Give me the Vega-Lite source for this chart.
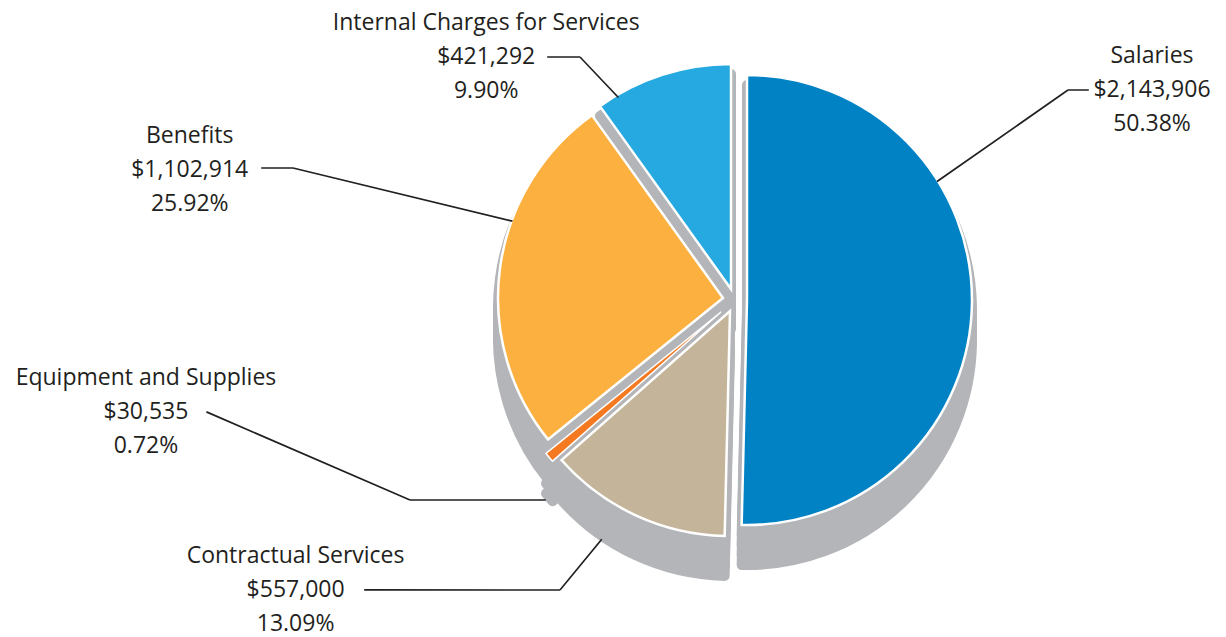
{
  "$schema": "https://vega.github.io/schema/vega-lite/v6.json",
  "width": 982,
  "height": 600,
  "autosize": "none",
  "padding": {"left": 244, "top": 0, "right": 0, "bottom": 37},
  "background": "white",
  "config": {"view": {"stroke": null}},
  "data": {"values": [
    {"category": "Salaries", "amount": 2143906, "pct": 50.38, "order": 1},
    {"category": "Contractual Services", "amount": 557000, "pct": 13.09, "order": 2},
    {"category": "Equipment and Supplies", "amount": 30535, "pct": 0.72, "order": 3},
    {"category": "Benefits", "amount": 1102914, "pct": 25.92, "order": 4},
    {"category": "Internal Charges for Services", "amount": 421292, "pct": 9.90, "order": 5}
  ]},
  "transform": [
    {"window": [{"op": "sum", "field": "amount", "as": "cum"}], "sort": [{"field": "order"}], "frame": [null, 0]},
    {"calculate": "datum.cum - datum.amount", "as": "start"},
    {"calculate": "datum.cum - datum.amount / 2", "as": "mid"},
    {"calculate": "datum.category + '\\n' + format(datum.amount, '$,') + '\\n' + format(datum.pct, '.2f') + '%'", "as": "label"}
  ],
  "layer": [
    {"transform": [{"filter": "datum.category === 'Salaries'"}], "mark": {"type": "arc", "radius": 225, "fill": "#b4b5b8", "stroke": "#b4b5b8", "strokeWidth": 10, "strokeJoin": "round", "xOffset": 12, "yOffset": 40}, "encoding": {"theta": {"field": "start", "type": "quantitative", "stack": null, "scale": {"domain": [0, 4255647]}}, "theta2": {"field": "cum"}}},
    {"transform": [{"filter": "datum.category === 'Salaries'"}], "mark": {"type": "arc", "radius": 225, "fill": "#b4b5b8", "stroke": "#b4b5b8", "strokeWidth": 10, "strokeJoin": "round", "xOffset": 12, "yOffset": 30}, "encoding": {"theta": {"field": "start", "type": "quantitative", "stack": null, "scale": {"domain": [0, 4255647]}}, "theta2": {"field": "cum"}}},
    {"transform": [{"filter": "datum.category === 'Salaries'"}], "mark": {"type": "arc", "radius": 225, "fill": "#b4b5b8", "stroke": "#b4b5b8", "strokeWidth": 10, "strokeJoin": "round", "xOffset": 12, "yOffset": 20}, "encoding": {"theta": {"field": "start", "type": "quantitative", "stack": null, "scale": {"domain": [0, 4255647]}}, "theta2": {"field": "cum"}}},
    {"transform": [{"filter": "datum.category === 'Salaries'"}], "mark": {"type": "arc", "radius": 225, "fill": "#b4b5b8", "stroke": "#b4b5b8", "strokeWidth": 10, "strokeJoin": "round", "xOffset": 12, "yOffset": 10}, "encoding": {"theta": {"field": "start", "type": "quantitative", "stack": null, "scale": {"domain": [0, 4255647]}}, "theta2": {"field": "cum"}}},

    {"transform": [{"filter": "datum.category === 'Internal Charges for Services'"}], "mark": {"type": "arc", "radius": 225, "fill": "#b4b5b8", "stroke": "#b4b5b8", "strokeWidth": 10, "strokeJoin": "round", "xOffset": -4, "yOffset": 29}, "encoding": {"theta": {"field": "start", "type": "quantitative", "stack": null, "scale": {"domain": [0, 4255647]}}, "theta2": {"field": "cum"}}},
    {"transform": [{"filter": "datum.category === 'Internal Charges for Services'"}], "mark": {"type": "arc", "radius": 225, "fill": "#b4b5b8", "stroke": "#b4b5b8", "strokeWidth": 10, "strokeJoin": "round", "xOffset": -4, "yOffset": 19}, "encoding": {"theta": {"field": "start", "type": "quantitative", "stack": null, "scale": {"domain": [0, 4255647]}}, "theta2": {"field": "cum"}}},
    {"transform": [{"filter": "datum.category === 'Internal Charges for Services'"}], "mark": {"type": "arc", "radius": 225, "fill": "#b4b5b8", "stroke": "#b4b5b8", "strokeWidth": 10, "strokeJoin": "round", "xOffset": -4, "yOffset": 9}, "encoding": {"theta": {"field": "start", "type": "quantitative", "stack": null, "scale": {"domain": [0, 4255647]}}, "theta2": {"field": "cum"}}},
    {"transform": [{"filter": "datum.category === 'Internal Charges for Services'"}], "mark": {"type": "arc", "radius": 225, "fill": "#b4b5b8", "stroke": "#b4b5b8", "strokeWidth": 10, "strokeJoin": "round", "xOffset": -4, "yOffset": -1}, "encoding": {"theta": {"field": "start", "type": "quantitative", "stack": null, "scale": {"domain": [0, 4255647]}}, "theta2": {"field": "cum"}}},

    {"transform": [{"filter": "datum.category === 'Benefits'"}], "mark": {"type": "arc", "radius": 225, "fill": "#b4b5b8", "stroke": "#b4b5b8", "strokeWidth": 10, "strokeJoin": "round", "xOffset": -12, "yOffset": 38}, "encoding": {"theta": {"field": "start", "type": "quantitative", "stack": null, "scale": {"domain": [0, 4255647]}}, "theta2": {"field": "cum"}}},
    {"transform": [{"filter": "datum.category === 'Benefits'"}], "mark": {"type": "arc", "radius": 225, "fill": "#b4b5b8", "stroke": "#b4b5b8", "strokeWidth": 10, "strokeJoin": "round", "xOffset": -12, "yOffset": 28}, "encoding": {"theta": {"field": "start", "type": "quantitative", "stack": null, "scale": {"domain": [0, 4255647]}}, "theta2": {"field": "cum"}}},
    {"transform": [{"filter": "datum.category === 'Benefits'"}], "mark": {"type": "arc", "radius": 225, "fill": "#b4b5b8", "stroke": "#b4b5b8", "strokeWidth": 10, "strokeJoin": "round", "xOffset": -12, "yOffset": 18}, "encoding": {"theta": {"field": "start", "type": "quantitative", "stack": null, "scale": {"domain": [0, 4255647]}}, "theta2": {"field": "cum"}}},
    {"transform": [{"filter": "datum.category === 'Benefits'"}], "mark": {"type": "arc", "radius": 225, "fill": "#b4b5b8", "stroke": "#b4b5b8", "strokeWidth": 10, "strokeJoin": "round", "xOffset": -12, "yOffset": 8}, "encoding": {"theta": {"field": "start", "type": "quantitative", "stack": null, "scale": {"domain": [0, 4255647]}}, "theta2": {"field": "cum"}}},

    {"transform": [{"filter": "datum.category === 'Equipment and Supplies'"}], "mark": {"type": "arc", "radius": 225, "fill": "#b4b5b8", "stroke": "#b4b5b8", "strokeWidth": 10, "strokeJoin": "round", "xOffset": -14, "yOffset": 52}, "encoding": {"theta": {"field": "start", "type": "quantitative", "stack": null, "scale": {"domain": [0, 4255647]}}, "theta2": {"field": "cum"}}},
    {"transform": [{"filter": "datum.category === 'Equipment and Supplies'"}], "mark": {"type": "arc", "radius": 225, "fill": "#b4b5b8", "stroke": "#b4b5b8", "strokeWidth": 10, "strokeJoin": "round", "xOffset": -14, "yOffset": 42}, "encoding": {"theta": {"field": "start", "type": "quantitative", "stack": null, "scale": {"domain": [0, 4255647]}}, "theta2": {"field": "cum"}}},
    {"transform": [{"filter": "datum.category === 'Equipment and Supplies'"}], "mark": {"type": "arc", "radius": 225, "fill": "#b4b5b8", "stroke": "#b4b5b8", "strokeWidth": 10, "strokeJoin": "round", "xOffset": -14, "yOffset": 32}, "encoding": {"theta": {"field": "start", "type": "quantitative", "stack": null, "scale": {"domain": [0, 4255647]}}, "theta2": {"field": "cum"}}},
    {"transform": [{"filter": "datum.category === 'Equipment and Supplies'"}], "mark": {"type": "arc", "radius": 225, "fill": "#b4b5b8", "stroke": "#b4b5b8", "strokeWidth": 10, "strokeJoin": "round", "xOffset": -14, "yOffset": 22}, "encoding": {"theta": {"field": "start", "type": "quantitative", "stack": null, "scale": {"domain": [0, 4255647]}}, "theta2": {"field": "cum"}}},

    {"transform": [{"filter": "datum.category === 'Contractual Services'"}], "mark": {"type": "arc", "radius": 225, "fill": "#b4b5b8", "stroke": "#b4b5b8", "strokeWidth": 10, "strokeJoin": "round", "xOffset": -5, "yOffset": 51}, "encoding": {"theta": {"field": "start", "type": "quantitative", "stack": null, "scale": {"domain": [0, 4255647]}}, "theta2": {"field": "cum"}}},
    {"transform": [{"filter": "datum.category === 'Contractual Services'"}], "mark": {"type": "arc", "radius": 225, "fill": "#b4b5b8", "stroke": "#b4b5b8", "strokeWidth": 10, "strokeJoin": "round", "xOffset": -5, "yOffset": 41}, "encoding": {"theta": {"field": "start", "type": "quantitative", "stack": null, "scale": {"domain": [0, 4255647]}}, "theta2": {"field": "cum"}}},
    {"transform": [{"filter": "datum.category === 'Contractual Services'"}], "mark": {"type": "arc", "radius": 225, "fill": "#b4b5b8", "stroke": "#b4b5b8", "strokeWidth": 10, "strokeJoin": "round", "xOffset": -5, "yOffset": 31}, "encoding": {"theta": {"field": "start", "type": "quantitative", "stack": null, "scale": {"domain": [0, 4255647]}}, "theta2": {"field": "cum"}}},
    {"transform": [{"filter": "datum.category === 'Contractual Services'"}], "mark": {"type": "arc", "radius": 225, "fill": "#b4b5b8", "stroke": "#b4b5b8", "strokeWidth": 10, "strokeJoin": "round", "xOffset": -5, "yOffset": 21}, "encoding": {"theta": {"field": "start", "type": "quantitative", "stack": null, "scale": {"domain": [0, 4255647]}}, "theta2": {"field": "cum"}}},

    {"transform": [{"filter": "datum.category === 'Salaries'"}], "mark": {"type": "arc", "radius": 225, "stroke": "white", "strokeWidth": 2.5, "strokeJoin": "miter", "xOffset": 12, "yOffset": 0}, "encoding": {"theta": {"field": "start", "type": "quantitative", "stack": null, "scale": {"domain": [0, 4255647]}}, "theta2": {"field": "cum"}, "color": {"field": "category", "type": "nominal", "legend": null, "scale": {"domain": ["Salaries", "Contractual Services", "Equipment and Supplies", "Benefits", "Internal Charges for Services"], "range": ["#0082c4", "#c4b49a", "#f47920", "#fbb040", "#26a9e0"]}}}},
    {"transform": [{"filter": "datum.category === 'Internal Charges for Services'"}], "mark": {"type": "arc", "radius": 225, "stroke": "white", "strokeWidth": 2.5, "strokeJoin": "miter", "xOffset": -4, "yOffset": -11}, "encoding": {"theta": {"field": "start", "type": "quantitative", "stack": null, "scale": {"domain": [0, 4255647]}}, "theta2": {"field": "cum"}, "color": {"field": "category", "type": "nominal", "legend": null}}},
    {"transform": [{"filter": "datum.category === 'Benefits'"}], "mark": {"type": "arc", "radius": 225, "stroke": "white", "strokeWidth": 2.5, "strokeJoin": "miter", "xOffset": -12, "yOffset": -2}, "encoding": {"theta": {"field": "start", "type": "quantitative", "stack": null, "scale": {"domain": [0, 4255647]}}, "theta2": {"field": "cum"}, "color": {"field": "category", "type": "nominal", "legend": null}}},
    {"transform": [{"filter": "datum.category === 'Equipment and Supplies'"}], "mark": {"type": "arc", "radius": 225, "stroke": "white", "strokeWidth": 1.5, "strokeJoin": "miter", "xOffset": -14, "yOffset": 12}, "encoding": {"theta": {"field": "start", "type": "quantitative", "stack": null, "scale": {"domain": [0, 4255647]}}, "theta2": {"field": "cum"}, "color": {"field": "category", "type": "nominal", "legend": null}}},
    {"transform": [{"filter": "datum.category === 'Contractual Services'"}], "mark": {"type": "arc", "radius": 225, "stroke": "white", "strokeWidth": 2.5, "strokeJoin": "miter", "xOffset": -5, "yOffset": 11}, "encoding": {"theta": {"field": "start", "type": "quantitative", "stack": null, "scale": {"domain": [0, 4255647]}}, "theta2": {"field": "cum"}, "color": {"field": "category", "type": "nominal", "legend": null}}},

    {"transform": [{"filter": "datum.category === 'Internal Charges for Services'"}], "mark": {"type": "arc", "radius": 55, "radius2": 0, "thetaOffset": -3.590, "theta2Offset": -3.589, "xOffset": -155, "yOffset": -243, "fill": "#231f20", "stroke": "#231f20", "strokeWidth": 1.6}, "encoding": {"theta": {"field": "mid", "type": "quantitative", "stack": null, "scale": {"domain": [0, 4255647]}}, "theta2": {"field": "mid"}}},
    {"transform": [{"filter": "datum.category === 'Internal Charges for Services'"}], "mark": {"type": "arc", "radius": 32, "radius2": 0, "thetaOffset": -1.260, "theta2Offset": -1.259, "xOffset": -155, "yOffset": -243, "fill": "#231f20", "stroke": "#231f20", "strokeWidth": 1.6}, "encoding": {"theta": {"field": "mid", "type": "quantitative", "stack": null, "scale": {"domain": [0, 4255647]}}, "theta2": {"field": "mid"}}},
    {"transform": [{"filter": "datum.category === 'Salaries'"}], "mark": {"type": "arc", "radius": 159, "radius2": 0, "thetaOffset": 2.519, "theta2Offset": 2.520, "xOffset": 333, "yOffset": -210, "fill": "#231f20", "stroke": "#231f20", "strokeWidth": 1.6}, "encoding": {"theta": {"field": "mid", "type": "quantitative", "stack": null, "scale": {"domain": [0, 4255647]}}, "theta2": {"field": "mid"}}},
    {"transform": [{"filter": "datum.category === 'Salaries'"}], "mark": {"type": "arc", "radius": 20, "radius2": 0, "thetaOffset": -0.0119, "theta2Offset": -0.0109, "xOffset": 333, "yOffset": -210, "fill": "#231f20", "stroke": "#231f20", "strokeWidth": 1.6}, "encoding": {"theta": {"field": "mid", "type": "quantitative", "stack": null, "scale": {"domain": [0, 4255647]}}, "theta2": {"field": "mid"}}},
    {"transform": [{"filter": "datum.category === 'Benefits'"}], "mark": {"type": "arc", "radius": 225, "radius2": 0, "thetaOffset": -3.039, "theta2Offset": -3.038, "xOffset": -442, "yOffset": -132, "fill": "#231f20", "stroke": "#231f20", "strokeWidth": 1.6}, "encoding": {"theta": {"field": "mid", "type": "quantitative", "stack": null, "scale": {"domain": [0, 4255647]}}, "theta2": {"field": "mid"}}},
    {"transform": [{"filter": "datum.category === 'Benefits'"}], "mark": {"type": "arc", "radius": 31, "radius2": 0, "thetaOffset": -0.1347, "theta2Offset": -0.1337, "xOffset": -442, "yOffset": -132, "fill": "#231f20", "stroke": "#231f20", "strokeWidth": 1.6}, "encoding": {"theta": {"field": "mid", "type": "quantitative", "stack": null, "scale": {"domain": [0, 4255647]}}, "theta2": {"field": "mid"}}},
    {"transform": [{"filter": "datum.category === 'Equipment and Supplies'"}], "mark": {"type": "arc", "radius": 135, "radius2": 0, "thetaOffset": -2.440, "theta2Offset": -2.439, "xOffset": -325, "yOffset": 200, "fill": "#231f20", "stroke": "#231f20", "strokeWidth": 1.6}, "encoding": {"theta": {"field": "mid", "type": "quantitative", "stack": null, "scale": {"domain": [0, 4255647]}}, "theta2": {"field": "mid"}}},
    {"transform": [{"filter": "datum.category === 'Equipment and Supplies'"}], "mark": {"type": "arc", "radius": 221, "radius2": 0, "thetaOffset": 1.110, "theta2Offset": 1.111, "xOffset": -325, "yOffset": 200, "fill": "#231f20", "stroke": "#231f20", "strokeWidth": 1.6}, "encoding": {"theta": {"field": "mid", "type": "quantitative", "stack": null, "scale": {"domain": [0, 4255647]}}, "theta2": {"field": "mid"}}},
    {"transform": [{"filter": "datum.category === 'Contractual Services'"}], "mark": {"type": "arc", "radius": 65, "radius2": 0, "thetaOffset": -2.889, "theta2Offset": -2.888, "xOffset": -175, "yOffset": 290, "fill": "#231f20", "stroke": "#231f20", "strokeWidth": 1.6}, "encoding": {"theta": {"field": "mid", "type": "quantitative", "stack": null, "scale": {"domain": [0, 4255647]}}, "theta2": {"field": "mid"}}},
    {"transform": [{"filter": "datum.category === 'Contractual Services'"}], "mark": {"type": "arc", "radius": 195, "radius2": 0, "thetaOffset": 1.136, "theta2Offset": 1.137, "xOffset": -175, "yOffset": 290, "fill": "#231f20", "stroke": "#231f20", "strokeWidth": 1.6}, "encoding": {"theta": {"field": "mid", "type": "quantitative", "stack": null, "scale": {"domain": [0, 4255647]}}, "theta2": {"field": "mid"}}},

    {"transform": [{"filter": "datum.category === 'Salaries'"}], "mark": {"type": "text", "radius": 300, "dx": 117, "dy": -248, "align": "center", "baseline": "middle", "lineBreak": "\n", "lineHeight": 34, "font": "Open Sans", "fontSize": 23, "fill": "#231f20"}, "encoding": {"theta": {"field": "mid", "type": "quantitative", "stack": null, "scale": {"domain": [0, 4255647]}}, "text": {"field": "label"}}},
    {"transform": [{"filter": "datum.category === 'Contractual Services'"}], "mark": {"type": "text", "radius": 300, "dx": -313, "dy": -16, "align": "center", "baseline": "middle", "lineBreak": "\n", "lineHeight": 34, "font": "Open Sans", "fontSize": 23, "fill": "#231f20"}, "encoding": {"theta": {"field": "mid", "type": "quantitative", "stack": null, "scale": {"domain": [0, 4255647]}}, "text": {"field": "label"}}},
    {"transform": [{"filter": "datum.category === 'Equipment and Supplies'"}], "mark": {"type": "text", "radius": 300, "dx": -360, "dy": -116, "align": "center", "baseline": "middle", "lineBreak": "\n", "lineHeight": 34, "font": "Open Sans", "fontSize": 23, "fill": "#231f20"}, "encoding": {"theta": {"field": "mid", "type": "quantitative", "stack": null, "scale": {"domain": [0, 4255647]}}, "text": {"field": "label"}}},
    {"transform": [{"filter": "datum.category === 'Benefits'"}], "mark": {"type": "text", "radius": 300, "dx": -248, "dy": -124, "align": "center", "baseline": "middle", "lineBreak": "\n", "lineHeight": 34, "font": "Open Sans", "fontSize": 23, "fill": "#231f20"}, "encoding": {"theta": {"field": "mid", "type": "quantitative", "stack": null, "scale": {"domain": [0, 4255647]}}, "text": {"field": "label"}}},
    {"transform": [{"filter": "datum.category === 'Internal Charges for Services'"}], "mark": {"type": "text", "radius": 300, "dx": -157, "dy": 9, "align": "center", "baseline": "middle", "lineBreak": "\n", "lineHeight": 34, "font": "Open Sans", "fontSize": 23, "fill": "#231f20"}, "encoding": {"theta": {"field": "mid", "type": "quantitative", "stack": null, "scale": {"domain": [0, 4255647]}}, "text": {"field": "label"}}}
  ]
}
